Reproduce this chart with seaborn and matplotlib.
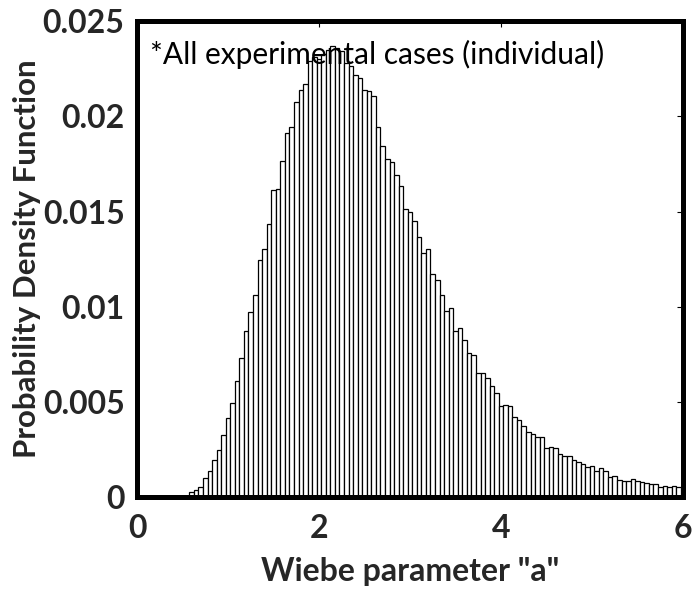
import numpy as np
import pandas as pd
import matplotlib
matplotlib.use("Agg")
import matplotlib.pyplot as plt
import seaborn as sns

# Histogram of the Wiebe "a" parameter, bin width 0.05
bin_width = 0.05
bin_centers = np.round(0.6 + bin_width * np.arange(108), 3)
density = [
    0.00028, 0.00038, 0.00054, 0.00100, 0.00138, 0.00196, 0.00248, 0.00325,
    0.00416, 0.00495, 0.00612, 0.00729, 0.00872, 0.00970, 0.01060, 0.01243,
    0.01301, 0.01435, 0.01616, 0.01621, 0.01768, 0.01915, 0.01943, 0.02077,
    0.02140, 0.02172, 0.02290, 0.02310, 0.02300, 0.02330, 0.02350, 0.02368,
    0.02360, 0.02342, 0.02280, 0.02263, 0.02216, 0.02200, 0.02140, 0.02132,
    0.02108, 0.01942, 0.01843, 0.01777, 0.01761, 0.01693, 0.01633, 0.01511,
    0.01496, 0.01450, 0.01365, 0.01284, 0.01305, 0.01170, 0.01139, 0.01062,
    0.00975, 0.00992, 0.00873, 0.00890, 0.00825, 0.00757, 0.00746, 0.00652,
    0.00650, 0.00626, 0.00581, 0.00549, 0.00479, 0.00484, 0.00478, 0.00418,
    0.00406, 0.00371, 0.00343, 0.00330, 0.00316, 0.00316, 0.00257, 0.00262,
    0.00257, 0.00226, 0.00214, 0.00214, 0.00194, 0.00182, 0.00171, 0.00156,
    0.00161, 0.00138, 0.00152, 0.00138, 0.00105, 0.00112, 0.00089, 0.00086,
    0.00086, 0.00094, 0.00084, 0.00080, 0.00073, 0.00067, 0.00067, 0.00054,
    0.00059, 0.00051, 0.00059, 0.00051,
]
x_ticks = [0, 2, 4, 6]
y_ticks = [0, 0.005, 0.01, 0.015, 0.02, 0.025]
y_tick_labels = ["0", "0.005", "0.01", "0.015", "0.02", "0.025"]

df = pd.DataFrame({"a": bin_centers, "pdf": density})

sns.set_theme(style="white")
plt.rcParams["font.family"] = ["Lato", "DejaVu Sans"]

fig = plt.figure(figsize=(6.92, 5.91), dpi=100)
ax = fig.add_axes([0.198, 0.159, 0.789, 0.805])

sns.histplot(
    data=df, x="a", weights="pdf", stat="count",
    binwidth=bin_width,
    binrange=(bin_centers[0] - bin_width / 2, bin_centers[-1] + bin_width / 2),
    color="white", alpha=1.0, edgecolor="black", linewidth=0.9, ax=ax,
)

ax.set_xlim(0, 6)
ax.set_ylim(0, 0.025)
ax.set_xticks(x_ticks)
ax.set_xticklabels([str(t) for t in x_ticks], fontsize=23, fontweight="bold")
ax.set_yticks(y_ticks)
ax.set_yticklabels(y_tick_labels, fontsize=23, fontweight="bold")
ax.tick_params(axis="x", pad=12)
ax.tick_params(axis="y", pad=9)
ax.tick_params(direction="in", length=4, width=0.8, top=True, right=True,
               color="black")

for side in ax.spines.values():
    side.set_linewidth(3.6)
    side.set_color("black")

ax.set_xlabel('Wiebe parameter "a"', fontsize=23, fontweight="bold", labelpad=10)
ax.set_ylabel("Probability Density Function", fontsize=22.5, fontweight="bold",
              labelpad=1)

ax.text(0.024, 0.93, "*All experimental cases (individual)", transform=ax.transAxes,
        fontsize=21.5, ha="left", va="center", color="black")

fig.savefig("out.png", dpi=100)
